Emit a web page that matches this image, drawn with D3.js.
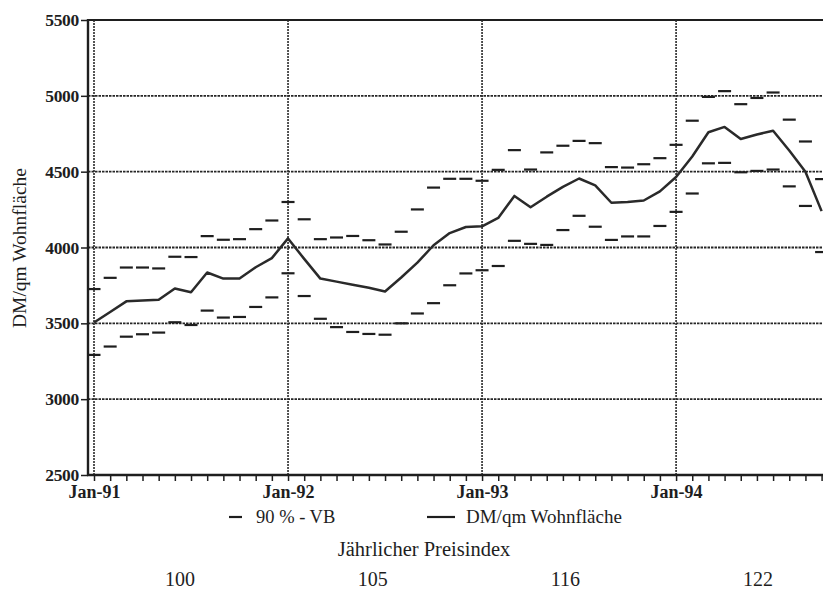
<!DOCTYPE html>
<html>
<head>
<meta charset="utf-8">
<script src="https://cdn.jsdelivr.net/npm/d3@7"></script>
<style>
  html, body { margin: 0; padding: 0; background: #fff; }
  svg { display: block; font-family: "Liberation Serif", "Times New Roman", serif; }
</style>
</head>
<body>
<svg id="chart" width="823" height="594"></svg>
<script>
// Monthly asking price per m² living space, Jan-91 onward (month index 0 = Jan-91)
const priceMean = [
  3505, 3575, 3645, 3650, 3655, 3730, 3705, 3835, 3795, 3795, 3870, 3930,
  4060, 3925, 3795, 3775, 3755, 3735, 3710, 3802, 3900, 4015, 4095, 4135,
  4140, 4195, 4340, 4265, 4335, 4400, 4455, 4410, 4295, 4300, 4310, 4370,
  4465, 4600, 4760, 4795, 4715, 4745, 4770, 4640, 4500, 4240
];
// 90 % confidence band, upper and lower bounds
const ciUpper = [
  3726, 3800, 3868, 3868, 3862, 3939, 3937, 4075, 4051, 4055, 4121, 4178,
  4300, 4186, 4055, 4066, 4076, 4048, 4020, 4104, 4251, 4395, 4453, 4453,
  4440, 4512, 4642, 4514, 4627, 4671, 4703, 4688, 4530, 4527, 4549, 4589,
  4677, 4836, 4993, 5031, 4945, 4986, 5022, 4843, 4699, 4451
];
const ciLower = [
  3292, 3347, 3412, 3428, 3439, 3507, 3489, 3584, 3538, 3542, 3608, 3671,
  3830, 3680, 3530, 3475, 3443, 3430, 3425, 3500, 3565, 3633, 3751, 3829,
  3850, 3878, 4044, 4024, 4017, 4115, 4209, 4137, 4050, 4073, 4073, 4142,
  4235, 4356, 4555, 4558, 4496, 4505, 4514, 4403, 4274, 3970
];
const yearLabels = ["Jan-91", "Jan-92", "Jan-93", "Jan-94"];
const yTicks = [2500, 3000, 3500, 4000, 4500, 5000, 5500];
const indexYears = ["100", "105", "116", "122"];

const svg = d3.select("#chart");
const W = 823;
const ink = "#1e1e1e";

const x = d3.scaleLinear().domain([0, 45]).range([94, 821.6]);
const y = d3.scaleLinear().domain([2500, 5500]).range([475, 20]);
const axisLeftX = 88;

// horizontal grid (dotted), top border solid
svg.append("g").selectAll("line")
  .data(yTicks.filter(v => v > 2500))
  .join("line")
  .attr("x1", axisLeftX).attr("x2", W)
  .attr("y1", d => y(d)).attr("y2", d => y(d))
  .attr("stroke", d => d === 5500 ? ink : "#262626")
  .attr("stroke-width", d => d === 5500 ? 2.2 : 1.9)
  .attr("stroke-dasharray", d => d === 5500 ? null : "2.5,1");

// vertical grid at each January
svg.append("g").selectAll("line")
  .data(yearLabels.map((_, i) => i * 12))
  .join("line")
  .attr("x1", d => x(d)).attr("x2", d => x(d))
  .attr("y1", y(5500)).attr("y2", y(2500))
  .attr("stroke", "#2a2a2a")
  .attr("stroke-width", 1.6)
  .attr("stroke-dasharray", "2,1");

// y axis
const yAxis = d3.axisLeft(y).tickValues(yTicks).tickFormat(d3.format("d"))
  .tickSize(7).tickPadding(2);
const gy = svg.append("g").attr("transform", `translate(${axisLeftX},0)`).call(yAxis);
gy.select(".domain").remove();
gy.selectAll(".tick line").attr("stroke", ink).attr("stroke-width", 1.5);
gy.selectAll(".tick text")
  .attr("fill", ink).attr("font-size", 17.5).attr("font-weight", "bold")
  .attr("font-family", "Liberation Serif, serif")
  .attr("letter-spacing", -0.3);
svg.append("line")
  .attr("x1", axisLeftX).attr("x2", axisLeftX)
  .attr("y1", y(5500) - 1).attr("y2", y(2500) + 1)
  .attr("stroke", ink).attr("stroke-width", 2.4);

// x axis: monthly ticks, labelled each January
const xAxis = d3.axisBottom(x)
  .tickValues(d3.range(0, 46))
  .tickSize(6)
  .tickPadding(4)
  .tickFormat(d => d % 12 === 0 ? yearLabels[d / 12] : "");
const gx = svg.append("g").attr("transform", `translate(0,${y(2500)})`).call(xAxis);
gx.select(".domain").remove();
gx.selectAll(".tick line").attr("stroke", ink).attr("stroke-width", 1.5);
gx.selectAll(".tick text")
  .attr("fill", ink).attr("font-size", 18).attr("font-weight", "bold")
  .attr("font-family", "Liberation Serif, serif");
svg.append("line")
  .attr("x1", axisLeftX - 1).attr("x2", W)
  .attr("y1", y(2500)).attr("y2", y(2500))
  .attr("stroke", ink).attr("stroke-width", 2.4);

// y axis title
svg.append("text")
  .attr("transform", `translate(26,248) rotate(-90)`)
  .attr("text-anchor", "middle")
  .attr("font-size", 19.5).attr("fill", ink)
  .text("DM/qm Wohnfläche");

// confidence band markers
const dashHalf = 6.5;
const months = d3.range(priceMean.length);
svg.append("g").selectAll("line")
  .data(months.flatMap(i => [ciUpper[i], ciLower[i]].map(v => ({ i, v }))))
  .join("line")
  .attr("x1", d => x(d.i) - dashHalf).attr("x2", d => x(d.i) + dashHalf)
  .attr("y1", d => y(d.v)).attr("y2", d => y(d.v))
  .attr("stroke", ink).attr("stroke-width", 2.2);

// mean price line
svg.append("path")
  .datum(months)
  .attr("fill", "none")
  .attr("stroke", "#2a2a2a")
  .attr("stroke-width", 2.5)
  .attr("stroke-linejoin", "round")
  .attr("d", d3.line().x(i => x(i)).y(i => y(priceMean[i])));

// legend
const legY = 517;
svg.append("line").attr("x1", 229).attr("x2", 242).attr("y1", legY).attr("y2", legY)
  .attr("stroke", ink).attr("stroke-width", 2.2);
svg.append("text").attr("x", 256).attr("y", 523)
  .attr("font-size", 18.5).attr("fill", ink)
  .text("90 % - VB");
svg.append("line").attr("x1", 427).attr("x2", 455).attr("y1", legY).attr("y2", legY)
  .attr("stroke", ink).attr("stroke-width", 2.2);
svg.append("text").attr("x", 466).attr("y", 523)
  .attr("font-size", 19).attr("fill", ink)
  .text("DM/qm Wohnfläche");

// yearly price index row
svg.append("text").attr("x", 424).attr("y", 556)
  .attr("text-anchor", "middle").attr("font-size", 20.5).attr("fill", ink)
  .text("Jährlicher Preisindex");
const idxX = d3.scalePoint().domain(indexYears).range([180, 758]);
svg.append("g").selectAll("text")
  .data(indexYears)
  .join("text")
  .attr("x", d => idxX(d)).attr("y", 586)
  .attr("text-anchor", "middle").attr("font-size", 20).attr("fill", ink)
  .text(d => d);
</script>
</body>
</html>
